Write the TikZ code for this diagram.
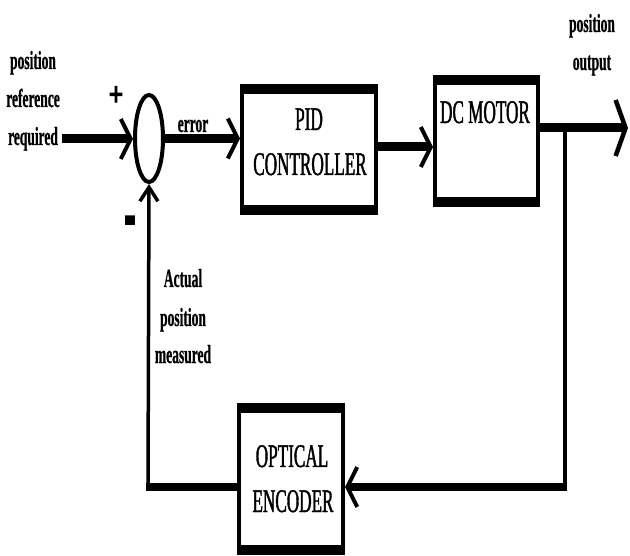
\documentclass[tikz,border=0pt]{standalone}
\usepackage{fontspec}
\setmainfont{Liberation Serif}[FakeStretch=0.52]
\newfontfamily\boxfont{Liberation Serif}[FakeStretch=0.52,FakeBold=1.2]
\newfontfamily\lblfont{Liberation Serif Bold}[FakeStretch=0.52,FakeBold=0.6]
\newfontfamily\signfont{Liberation Serif Bold}[FakeStretch=0.75,FakeBold=3]
\usetikzlibrary{arrows.meta,shapes.geometric}
\tikzset{
  hl/.style={line width=9pt},
  hlb/.style={line width=7.5pt},
  vl/.style={line width=3.5pt},
  harr/.style={-{Straight Barb[length=10pt,width=40pt,line width=4pt 0]}},
  oarr/.style={-{Straight Barb[length=10pt,width=56pt,line width=4.5pt 0]}},
  varr/.style={-{Straight Barb[length=14pt,width=18pt,line width=3.5pt 0]}},
  blk/.style={draw, line width=4pt, inner sep=0pt,
    path picture={
      \fill (path picture bounding box.north west) rectangle ([yshift=-8pt]path picture bounding box.north east);
      \fill (path picture bounding box.south west) rectangle ([yshift=8pt]path picture bounding box.south east);
    }},
  btxt/.style={font=\boxfont\fontsize{33}{36}\selectfont, inner sep=0pt, anchor=base},
  lbl/.style={font=\lblfont\fontsize{26}{28}\selectfont, inner sep=0pt, anchor=base},
  sgn/.style={font=\signfont\fontsize{34}{36}\selectfont, inner sep=0pt},
}
\begin{document}
\begin{tikzpicture}[x=1pt,y=-1pt]
\useasboundingbox[fill=white] (0,0) rectangle (630,556);

% blocks
\node[draw, ellipse, line width=4pt, inner sep=0pt, minimum width=28pt, minimum height=87pt] (sum) at (149,138.5) {};
\node[blk, minimum width=134pt, minimum height=127pt] (pid) at (309,149.5) {};
\node[blk, minimum width=103pt, minimum height=128pt] (dc) at (486.5,141) {};
\node[blk, minimum width=104pt, minimum height=148pt] (enc) at (291,479) {};

% block texts
\node[btxt] (pidt1) at (309,130) {PID};
\node[btxt] (pidt2) at (310,175) {CONTROLLER};
\node[btxt] (dct) at (485,123) {DC MOTOR};
\node[btxt] (enct1) at (292,467) {OPTICAL};
\node[btxt] (enct2) at (293,512) {ENCODER};

% labels
\node[lbl] (r1) at (33,69) {position};
\node[lbl] (r2) at (33,107) {reference};
\node[lbl] (r3) at (33,145) {required};
\node[lbl] (err) at (193,132) {error};
\node[lbl] (a1) at (183,287) {Actual};
\node[lbl] (a2) at (183,326) {position};
\node[lbl] (a3) at (183,363) {measured};
\node[lbl] (o1) at (592,32) {position};
\node[lbl] (o2) at (592,70) {output};
\node[sgn] (plus) at (116,96) {+};
\node[sgn] (minus) at (130,228) {\scalebox{1.3}[2.4]{-}};

% coordinates
\coordinate (inS) at (62,139);
\coordinate (br) at (565,128);
\coordinate (out) at (628,128);
\coordinate (brd) at (565,487);
\coordinate (fbc) at (148,487);

% connectors
\draw[hl, harr] (inS) -- (inS -| sum.west);
\draw[hl, harr] (sum.east) -- (sum.east -| pid.west);
\draw[hl, harr] (pid.east |- 0,147) -- (dc.west |- 0,147);
\draw[hl, oarr] (dc.east |- br) -- (out);
\draw[vl] (br) -- (brd);
\draw[hlb, harr] ([xshift=1.75pt]brd) -- (enc.east |- brd);
\draw[hlb] (enc.west |- fbc) -- ([xshift=-1.75pt]fbc);
\draw[vl, varr] (fbc) -- (sum.south);
\end{tikzpicture}
\end{document}
